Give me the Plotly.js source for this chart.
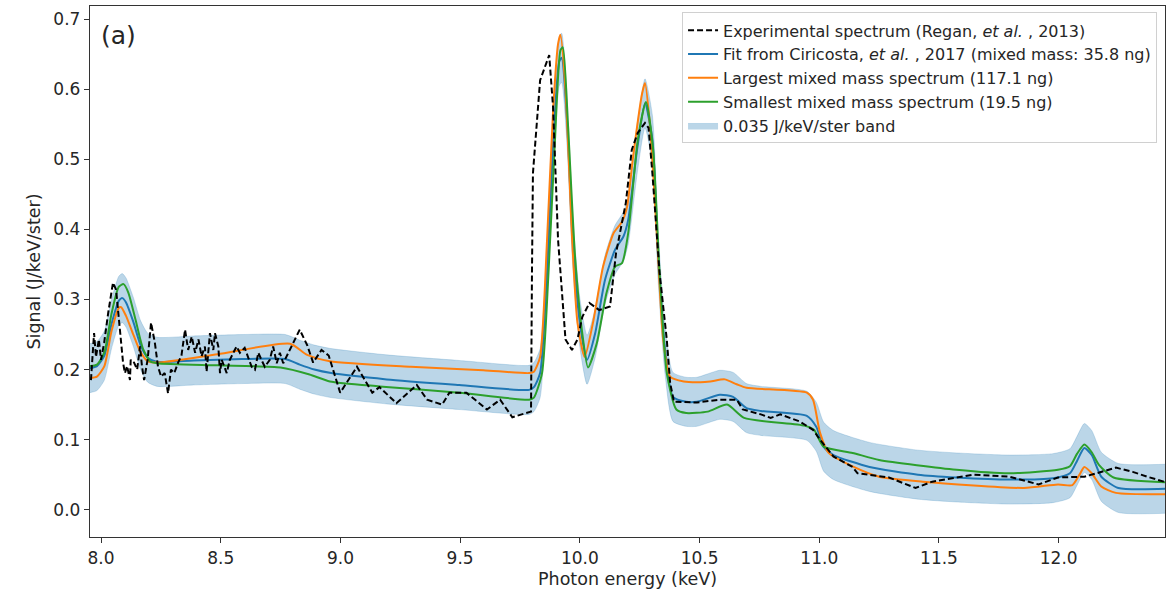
<!DOCTYPE html>
<html>
<head>
<meta charset="utf-8">
<script src="https://cdn.plot.ly/plotly-3.0.1.min.js"></script>
<style>html,body{margin:0;padding:0;background:#fff;}#chart{width:1174px;height:595px;}</style>
</head>
<body>
<div id="chart"></div>
<script>
// ---- Data ----
const expEnergy = [7.958,7.971,7.979,7.991,8.000,8.013,8.030,8.050,8.063,8.079,8.092,8.100,8.109,8.121,8.124,8.138,8.151,8.163,8.171,8.180,8.195,8.209,8.225,8.238,8.251,8.266,8.280,8.292,8.306,8.322,8.336,8.351,8.364,8.379,8.393,8.407,8.420,8.434,8.441,8.455,8.469,8.476,8.490,8.497,8.504,8.525,8.538,8.566,8.580,8.600,8.615,8.629,8.643,8.657,8.670,8.684,8.705,8.719,8.734,8.747,8.761,8.782,8.803,8.830,8.861,8.886,8.921,8.951,8.999,9.069,9.133,9.163,9.234,9.319,9.362,9.425,9.455,9.526,9.612,9.667,9.718,9.783,9.796,9.800,9.804,9.834,9.855,9.872,9.888,9.909,9.940,9.967,9.990,10.010,10.040,10.081,10.126,10.141,10.151,10.192,10.217,10.242,10.272,10.287,10.303,10.333,10.363,10.377,10.393,10.489,10.585,10.655,10.681,10.756,10.797,10.837,10.918,10.974,11.003,11.059,11.139,11.160,11.291,11.402,11.472,11.644,11.795,11.916,11.997,12.107,12.178,12.239,12.309,12.370,12.460];
const expSignal = [0.185,0.252,0.218,0.243,0.214,0.238,0.281,0.324,0.314,0.257,0.21,0.195,0.205,0.185,0.214,0.21,0.2,0.233,0.205,0.185,0.215,0.267,0.238,0.204,0.19,0.195,0.166,0.2,0.195,0.21,0.22,0.257,0.228,0.247,0.224,0.243,0.219,0.233,0.197,0.252,0.228,0.252,0.233,0.195,0.214,0.195,0.214,0.233,0.224,0.231,0.216,0.204,0.2,0.224,0.214,0.204,0.214,0.233,0.209,0.224,0.209,0.224,0.238,0.257,0.235,0.21,0.228,0.22,0.167,0.204,0.167,0.175,0.152,0.178,0.157,0.15,0.167,0.167,0.143,0.157,0.132,0.138,0.14,0.338,0.48,0.613,0.632,0.649,0.575,0.385,0.243,0.228,0.243,0.275,0.295,0.285,0.29,0.338,0.366,0.438,0.514,0.538,0.552,0.545,0.48,0.338,0.243,0.181,0.154,0.153,0.157,0.157,0.143,0.136,0.131,0.136,0.126,0.114,0.1,0.076,0.061,0.052,0.046,0.031,0.04,0.05,0.047,0.036,0.046,0.047,0.054,0.06,0.054,0.047,0.038];

const fitEnergy = [7.953,7.983,8.014,8.044,8.074,8.089,8.104,8.135,8.165,8.195,8.235,8.387,8.588,8.770,8.830,8.891,8.961,9.193,9.496,9.788,9.808,9.834,9.863,9.889,9.914,9.924,9.947,9.970,10.000,10.030,10.064,10.105,10.147,10.182,10.202,10.239,10.272,10.303,10.327,10.356,10.389,10.444,10.489,10.585,10.640,10.696,10.756,10.948,10.988,11.018,11.059,11.210,11.412,11.573,11.795,11.976,12.047,12.077,12.107,12.138,12.178,12.249,12.460];
const fitSignal = [0.202,0.205,0.22,0.265,0.298,0.302,0.296,0.268,0.235,0.217,0.211,0.213,0.215,0.215,0.207,0.2,0.195,0.186,0.178,0.171,0.175,0.195,0.338,0.527,0.64,0.645,0.552,0.385,0.267,0.214,0.252,0.328,0.371,0.39,0.414,0.514,0.58,0.528,0.361,0.228,0.161,0.154,0.154,0.164,0.161,0.145,0.141,0.134,0.118,0.09,0.078,0.061,0.05,0.046,0.043,0.045,0.052,0.07,0.088,0.078,0.047,0.031,0.03];

const largeEnergy = [7.953,7.983,8.014,8.044,8.074,8.084,8.104,8.135,8.165,8.195,8.235,8.487,8.790,8.861,8.956,9.294,9.597,9.788,9.808,9.834,9.863,9.889,9.909,9.919,9.940,9.968,9.990,10.020,10.055,10.097,10.141,10.176,10.197,10.222,10.260,10.272,10.292,10.323,10.348,10.377,10.434,10.504,10.545,10.605,10.655,10.696,10.948,10.974,11.003,11.039,11.144,11.250,11.432,11.855,11.997,12.057,12.087,12.107,12.138,12.178,12.239,12.460];
const largeSignal = [0.188,0.19,0.205,0.255,0.288,0.289,0.277,0.25,0.225,0.212,0.21,0.222,0.237,0.221,0.212,0.204,0.199,0.195,0.197,0.218,0.385,0.575,0.665,0.678,0.6,0.385,0.267,0.218,0.267,0.347,0.395,0.411,0.432,0.503,0.594,0.609,0.552,0.385,0.243,0.19,0.183,0.182,0.183,0.186,0.179,0.174,0.167,0.157,0.11,0.081,0.061,0.047,0.04,0.031,0.036,0.035,0.05,0.061,0.052,0.033,0.024,0.022];

const smallEnergy = [7.953,7.983,8.014,8.044,8.074,8.094,8.114,8.145,8.175,8.205,8.235,8.487,8.750,8.871,8.956,9.163,9.496,9.788,9.808,9.842,9.869,9.896,9.919,9.929,9.950,9.980,10.010,10.034,10.071,10.111,10.147,10.176,10.202,10.242,10.276,10.306,10.333,10.363,10.403,10.444,10.534,10.615,10.686,10.938,10.978,11.018,11.139,11.250,11.573,11.795,11.997,12.047,12.077,12.107,12.138,12.168,12.229,12.460];
const smallSignal = [0.205,0.207,0.225,0.28,0.318,0.322,0.31,0.27,0.23,0.212,0.209,0.206,0.203,0.193,0.183,0.176,0.167,0.157,0.16,0.195,0.338,0.527,0.656,0.66,0.552,0.361,0.252,0.203,0.238,0.309,0.347,0.352,0.395,0.528,0.582,0.514,0.338,0.195,0.143,0.138,0.14,0.15,0.131,0.12,0.114,0.09,0.081,0.071,0.057,0.052,0.057,0.062,0.08,0.093,0.082,0.064,0.046,0.039];

const bandHalfWidth = 0.035; // from legend: 0.035 J/keV/ster band

const xTickVals = [8.0,8.5,9.0,9.5,10.0,10.5,11.0,11.5,12.0];
const xTickText = ['8.0','8.5','9.0','9.5','10.0','10.5','11.0','11.5','12.0'];
const yTickVals = [0.0,0.1,0.2,0.3,0.4,0.5,0.6,0.7];
const yTickText = ['0.0','0.1','0.2','0.3','0.4','0.5','0.6','0.7'];

const names = {
  exp: 'Experimental spectrum (Regan, <i>et al.</i> , 2013)',
  fit: 'Fit from Ciricosta, <i>et al.</i> , 2017 (mixed mass: 35.8 ng)',
  large: 'Largest mixed mass spectrum (117.1 ng)',
  small: 'Smallest mixed mass spectrum (19.5 ng)',
  band: '0.035 J/keV/ster band'
};

const bandLow = fitSignal.map(v => v - bandHalfWidth);
const bandHigh = fitSignal.map(v => v + bandHalfWidth);

const smooth = {shape: 'spline', smoothing: 0.6};

const traces = [
  {x: fitEnergy, y: bandLow, mode: 'lines', line: Object.assign({width: 0.8, color: 'rgba(31,119,180,0.25)'}, smooth), showlegend: false, hoverinfo: 'skip', legendgroup: 'g5'},
  {x: fitEnergy, y: bandHigh, mode: 'lines', fill: 'tonexty', fillcolor: 'rgba(31,119,180,0.3)', line: Object.assign({width: 0.8, color: 'rgba(31,119,180,0.25)'}, smooth), name: names.band, legendrank: 5, legendgroup: 'g5'},
  {x: fitEnergy, y: fitSignal, mode: 'lines', line: Object.assign({color: '#1f77b4', width: 2}, smooth), name: names.fit, legendrank: 2, legendgroup: 'g2'},
  {x: largeEnergy, y: largeSignal, mode: 'lines', line: Object.assign({color: '#ff7f0e', width: 2}, smooth), name: names.large, legendrank: 3, legendgroup: 'g3'},
  {x: smallEnergy, y: smallSignal, mode: 'lines', line: Object.assign({color: '#2ca02c', width: 2}, smooth), name: names.small, legendrank: 4, legendgroup: 'g4'},
  {x: expEnergy, y: expSignal, mode: 'lines', line: {color: '#000000', width: 2, dash: '6px,3px'}, name: names.exp, legendrank: 1, legendgroup: 'g1'}
];

const fam = 'DejaVu Sans, sans-serif';
const txt = '#262626';

const layout = {
  width: 1174, height: 595,
  margin: {l: 90, r: 9, t: 6, b: 58},
  paper_bgcolor: '#ffffff', plot_bgcolor: '#ffffff',
  font: {family: fam, size: 16, color: txt},
  xaxis: {
    range: [7.954, 12.444], tickvals: xTickVals, ticktext: xTickText,
    ticks: 'outside', ticklen: 5, tickcolor: '#333', tickwidth: 1,
    showline: true, mirror: true, linecolor: '#333', linewidth: 1.2,
    showgrid: false, zeroline: false,
    tickfont: {size: 17, family: fam, color: txt},
    title: {text: 'Photon energy (keV)', font: {size: 17.5, family: fam, color: txt}, standoff: 6}
  },
  yaxis: {
    range: [-0.039, 0.719], tickvals: yTickVals, ticktext: yTickText,
    ticks: 'outside', ticklen: 5, tickcolor: '#333', tickwidth: 1,
    showline: true, mirror: true, linecolor: '#333', linewidth: 1.2,
    showgrid: false, zeroline: false,
    tickfont: {size: 17, family: fam, color: txt},
    title: {text: 'Signal (J/keV/ster)', font: {size: 17.5, family: fam, color: txt}, standoff: 8}
  },
  legend: {
    x: 0.9926, xanchor: 'right', y: 0.988, yanchor: 'top',
    bgcolor: 'rgba(255,255,255,0.85)', bordercolor: '#d0d0d0', borderwidth: 1,
    font: {size: 16, family: fam, color: txt},
    tracegroupgap: 1, traceorder: 'normal'
  },
  annotations: [{
    text: '(a)', xref: 'paper', yref: 'paper', x: 0.008, y: 0.975, xanchor: 'left', yanchor: 'top',
    showarrow: false, font: {size: 25, family: fam, color: txt}
  }],
  showlegend: true
};

Plotly.newPlot('chart', traces, layout, {displayModeBar: false, staticPlot: true});
</script>
</body>
</html>
